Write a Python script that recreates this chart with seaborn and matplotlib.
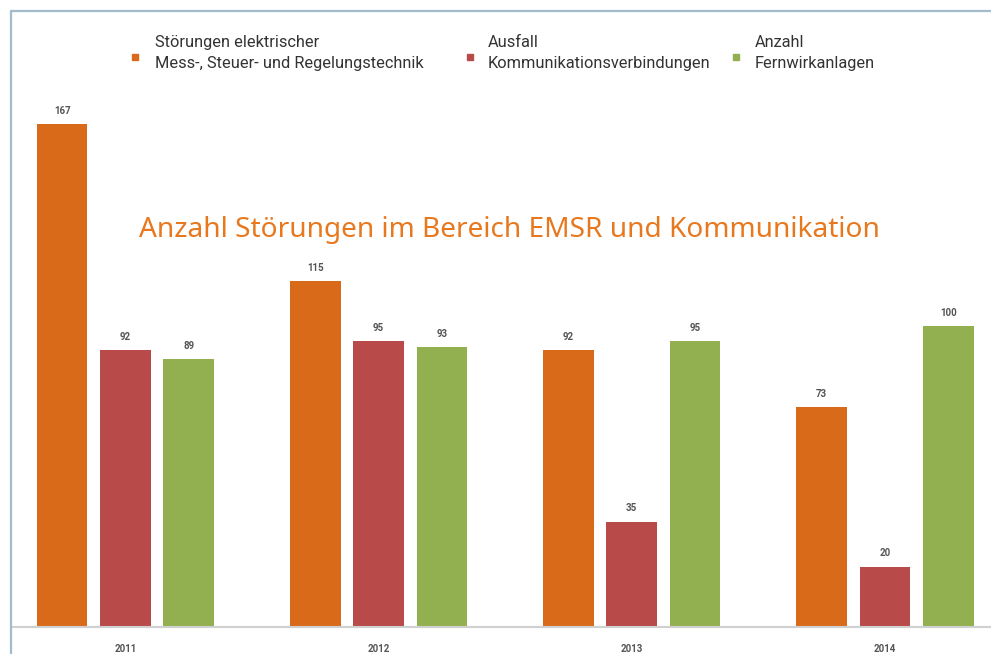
import matplotlib
matplotlib.use("Agg")
import matplotlib.pyplot as plt
import seaborn as sns
import pandas as pd
from matplotlib.lines import Line2D

years = ["2011", "2012", "2013", "2014"]
series_names = [
    "Störungen elektrischer\nMess-, Steuer- und Regelungstechnik",
    "Ausfall\nKommunikationsverbindungen",
    "Anzahl\nFernwirkanlagen",
]
stoerungen = [167, 115, 92, 73]
ausfall = [92, 95, 35, 20]
fernwirk = [89, 93, 95, 100]
colors = ["#d96a1a", "#b84a4a", "#93b050"]
title = "Anzahl Störungen im Bereich EMSR und Kommunikation"

rows = []
for name, vals in zip(series_names, [stoerungen, ausfall, fernwirk]):
    for y, v in zip(years, vals):
        rows.append({"Jahr": y, "Serie": name, "Wert": v})
df = pd.DataFrame(rows)

sns.set_theme(style="white")
plt.rcParams["font.family"] = ["Roboto", "DejaVu Sans"]

W, H = 991, 654
fig = plt.figure(figsize=(W / 100, H / 100), dpi=100)
fig.patch.set_facecolor("white")
ax_left = 10.5 / W
ax_bottom = (H - 627) / H
ax_top = 11 / H
ax = fig.add_axes([ax_left, ax_bottom, 1 - ax_left, 1 - ax_top - ax_bottom])

sns.barplot(data=df, x="Jahr", y="Wert", hue="Serie", order=years,
            hue_order=series_names, palette=colors, width=0.75, gap=0.2,
            saturation=1, legend=False, ax=ax, edgecolor="none")

ax.set_xlim(-0.454, 3.419)
ax.set_ylim(0, 616 / 3.01)
ax.set_xlabel("")
ax.set_ylabel("")
ax.set_yticks([])
ax.tick_params(axis="x", length=0, pad=12, labelsize=7, labelcolor="#555555")
for lbl in ax.get_xticklabels():
    lbl.set_fontweight("bold")
for s in ["left", "top", "right"]:
    ax.spines[s].set_visible(False)
ax.spines["bottom"].set_color("#d0d0d0")
ax.spines["bottom"].set_linewidth(1.5)

for cont in ax.containers:
    ax.bar_label(cont, padding=6, fontsize=7, color="#555555", fontweight="bold")

# frame lines
border = "#a3bccb"
fig.add_artist(Line2D([ax_left, ax_left], [0, 1 - ax_top], transform=fig.transFigure,
                      color=border, lw=1.6))
fig.add_artist(Line2D([ax_left, 1], [1 - ax_top, 1 - ax_top], transform=fig.transFigure,
                      color=border, lw=1.6))

# title
fig.text(509.5 / W, 1 - 230 / H, title, ha="center", va="center", fontsize=20.2,
         color="#e8781e", family=["Noto Sans", "DejaVu Sans"])

# legend
mx = [135, 470, 736]
tx = [155, 488, 755]
for m, t, c, name in zip(mx, tx, colors, series_names):
    fig.add_artist(Line2D([m / W], [1 - 57 / H], transform=fig.transFigure, marker="s",
                          markersize=4.5, color=c, linestyle="none"))
    fig.text(t / W, 1 - 53 / H, name, ha="left", va="center", fontsize=11.8,
             color="#333333", linespacing=1.45)

fig.savefig("out.png", dpi=100, facecolor="white")
